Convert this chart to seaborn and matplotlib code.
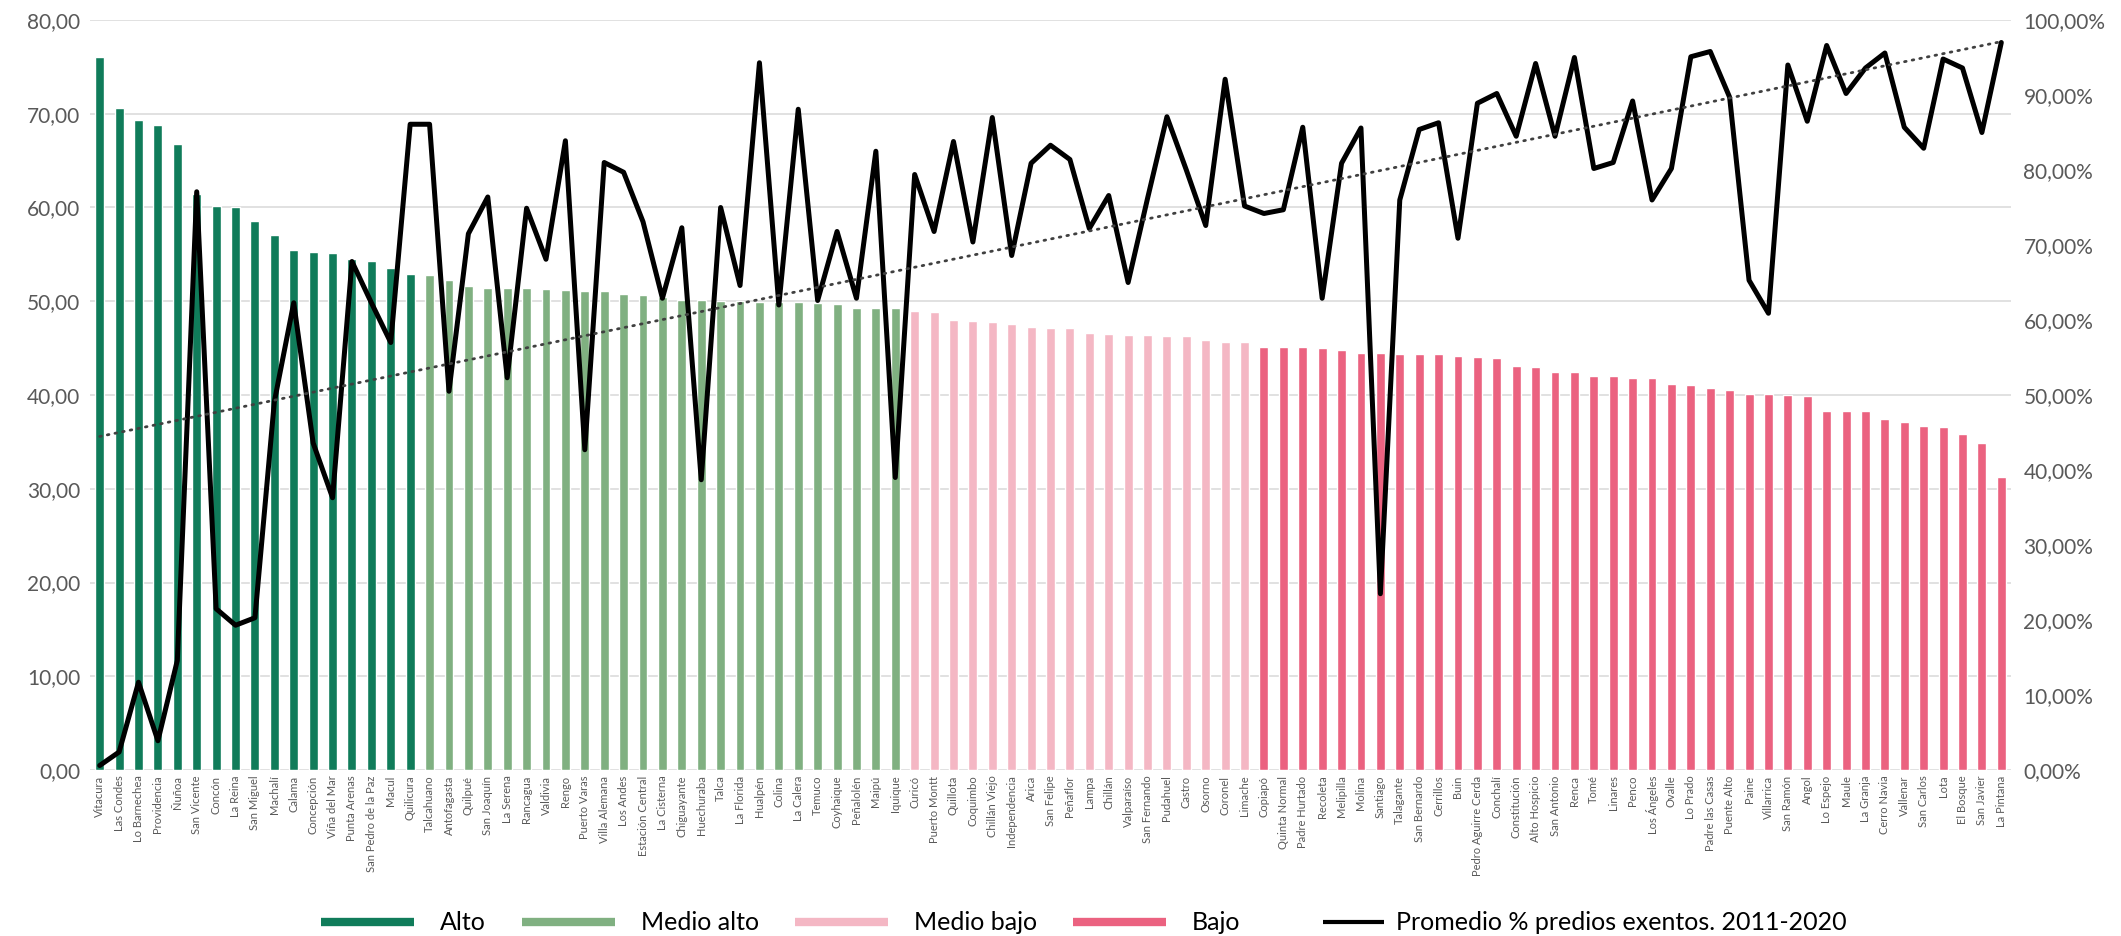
import numpy as np
import pandas as pd
import matplotlib
matplotlib.use("Agg")
import matplotlib.pyplot as plt
from matplotlib.lines import Line2D
from matplotlib.legend_handler import HandlerLine2D
from matplotlib.ticker import FuncFormatter, MultipleLocator
import seaborn as sns

# ---------------- data ----------------
alto = ["Vitacura", "Las Condes", "Lo Barnechea", "Providencia", "Ñuñoa", "San Vicente",
        "Concón", "La Reina", "San Miguel", "Machalí", "Calama", "Concepción",
        "Viña del Mar", "Punta Arenas", "San Pedro de la Paz", "Macul", "Quilicura"]
alto_val = [76.0, 70.6, 69.3, 68.8, 66.8, 61.4, 60.2, 60.1, 58.6, 57.1, 55.5, 55.2,
            55.1, 54.5, 54.3, 53.5, 52.9]
alto_pct = [0.6, 2.4, 11.7, 3.9, 14.6, 77.1, 21.5, 19.3, 20.3, 49.1, 62.3, 43.6,
            36.3, 67.8, 62.3, 57.0, 86.1]

medio_alto = ["Talcahuano", "Antofagasta", "Quilpué", "San Joaquín", "La Serena", "Rancagua",
              "Valdivia", "Rengo", "Puerto Varas", "Villa Alemana", "Los Andes",
              "Estación Central", "La Cisterna", "Chiguayante", "Huechuraba", "Talca",
              "La Florida", "Hualpén", "Colina", "La Calera", "Temuco", "Coyhaique",
              "Peñalolén", "Maipú", "Iquique"]
medio_alto_val = [52.8, 52.3, 51.6, 51.4, 51.4, 51.4, 51.3, 51.2, 51.1, 51.1, 50.8,
                  50.7, 50.4, 50.1, 50.1, 50.0, 50.0, 49.9, 49.9, 49.9, 49.8, 49.7,
                  49.3, 49.3, 49.3]
medio_alto_pct = [86.1, 50.5, 71.5, 76.4, 52.3, 74.9, 68.1, 83.9, 42.7, 81.0, 79.7,
                  73.1, 62.9, 72.3, 38.7, 75.0, 64.6, 94.3, 62.0, 88.1, 62.6, 71.8,
                  62.9, 82.5, 39.0]

medio_bajo = ["Curicó", "Puerto Montt", "Quillota", "Coquimbo", "Chillán Viejo",
              "Independencia", "Arica", "San Felipe", "Peñaflor", "Lampa", "Chillán",
              "Valparaíso", "San Fernando", "Pudahuel", "Castro", "Osorno", "Coronel",
              "Limache"]
medio_bajo_val = [49.0, 48.8, 48.0, 47.9, 47.8, 47.6, 47.2, 47.1, 47.1, 46.6, 46.5,
                  46.4, 46.4, 46.3, 46.3, 45.9, 45.7, 45.6]
medio_bajo_pct = [79.4, 71.8, 83.8, 70.4, 87.0, 68.6, 80.9, 83.3, 81.4, 72.2, 76.6,
                  65.0, 76.2, 87.1, 80.0, 72.6, 92.1, 75.2]

bajo = ["Copiapó", "Quinta Normal", "Padre Hurtado", "Recoleta", "Melipilla", "Molina",
        "Santiago", "Talagante", "San Bernardo", "Cerrillos", "Buin",
        "Pedro Aguirre Cerda", "Conchalí", "Constitución", "Alto Hospicio",
        "San Antonio", "Renca", "Tomé", "Linares", "Penco", "Los Ángeles", "Ovalle",
        "Lo Prado", "Padre las Casas", "Puente Alto", "Paine", "Villarrica",
        "San Ramón", "Angol", "Lo Espejo", "Maule", "La Granja", "Cerro Navia",
        "Vallenar", "San Carlos", "Lota", "El Bosque", "San Javier", "La Pintana"]
bajo_val = [45.1, 45.1, 45.1, 45.0, 44.8, 44.5, 44.5, 44.4, 44.4, 44.4, 44.2, 44.1,
            43.9, 43.1, 43.0, 42.5, 42.5, 42.0, 42.0, 41.8, 41.8, 41.2, 41.1, 40.7,
            40.5, 40.1, 40.1, 40.0, 39.9, 38.3, 38.3, 38.3, 37.4, 37.1, 36.7, 36.6,
            35.8, 34.9, 31.3]
bajo_pct = [74.2, 74.7, 85.7, 62.9, 80.9, 85.6, 23.5, 76.0, 85.4, 86.3, 70.9, 88.9,
            90.2, 84.5, 94.2, 84.5, 95.0, 80.2, 81.0, 89.2, 76.0, 80.2, 95.1, 95.8,
            89.7, 65.3, 60.9, 94.0, 86.5, 96.6, 90.2, 93.6, 95.6, 85.7, 82.9, 94.8,
            93.6, 85.0, 97.0]

group_names = ["Alto", "Medio alto", "Medio bajo", "Bajo"]
group_colors = ["#107C5A", "#80B081", "#F4B7C4", "#EB6280"]
line_label = "Promedio % predios exentos. 2011-2020"

# ---------------- table ----------------
frames = []
for g, names, vals, pcts in zip(group_names,
                                [alto, medio_alto, medio_bajo, bajo],
                                [alto_val, medio_alto_val, medio_bajo_val, bajo_val],
                                [alto_pct, medio_alto_pct, medio_bajo_pct, bajo_pct]):
    frames.append(pd.DataFrame({"comuna": names, "valor": vals, "pct": pcts, "grupo": g}))
df = pd.concat(frames, ignore_index=True)
df["pos"] = np.arange(len(df))

# ---------------- plot ----------------
sns.set_theme(style="white")
plt.rcParams["font.family"] = ["Lato", "DejaVu Sans"]

fig = plt.figure(figsize=(21.21, 9.36), dpi=100)
ax = fig.add_axes([90 / 2121, 1 - 770 / 936, (2011 - 90) / 2121, (770 - 20) / 936])

sns.barplot(data=df, x="comuna", y="valor", hue="grupo", order=list(df["comuna"]),
            hue_order=group_names, palette=dict(zip(group_names, group_colors)),
            dodge=False, width=0.46, legend=False, ax=ax, saturation=1)

ax.set_ylim(0, 80)
ax.set_xlim(-0.5, len(df) - 0.5)
ax.yaxis.set_major_locator(MultipleLocator(10))
ax.yaxis.set_major_formatter(FuncFormatter(lambda v, p: f"{v:.2f}".replace(".", ",")))
ax.grid(axis="y", color="#D9D9D9", linewidth=1.1)
ax.set_axisbelow(True)
for s in ax.spines.values():
    s.set_visible(False)
ax.set_xlabel("")
ax.set_ylabel("")
ax.tick_params(axis="y", length=0, pad=7, labelsize=15, labelcolor="#595959")
ax.tick_params(axis="x", length=0, pad=4, labelsize=8, labelcolor="#595959")
plt.setp(ax.get_xticklabels(), rotation=90, ha="center", va="top")

ax2 = ax.twinx()
sns.lineplot(data=df, x="pos", y="pct", color="black", linewidth=3.6, ax=ax2,
             legend=False)
# linear trend line of the percentage series
coef = np.polyfit(df["pos"], df["pct"], 1)
trend = np.polyval(coef, df["pos"])
sns.lineplot(x=df["pos"], y=trend, color="#404040", linewidth=2.0,
             linestyle=(0, (0.6, 2.2)), ax=ax2, legend=False)
ax2.lines[-1].set_dash_capstyle("round")

ax2.set_ylim(0, 100)
ax2.set_xlim(-0.5, len(df) - 0.5)
ax2.yaxis.set_major_locator(MultipleLocator(10))
ax2.yaxis.set_major_formatter(FuncFormatter(lambda v, p: f"{v:.2f}%".replace(".", ",")))
ax2.tick_params(axis="y", length=0, pad=9, labelsize=15, labelcolor="#595959")
ax2.set_ylabel("")
ax2.set_xlabel("")
ax2.grid(False)
for s in ax2.spines.values():
    s.set_visible(False)


class ShortLineHandler(HandlerLine2D):
    """Shorter legend handle sitting close to its text."""
    def create_artists(self, legend, orig_handle, xdescent, ydescent, width,
                       height, fontsize, trans):
        y = height / 2 - ydescent
        ln = Line2D([width * 0.50 - xdescent, width * 1.16 - xdescent], [y, y])
        self.update_prop(ln, orig_handle, legend)
        ln.set_transform(trans)
        return [ln]


handles = [Line2D([0], [0], color=c, linewidth=6, solid_capstyle="butt") for c in group_colors]
line_handle = Line2D([0], [0], color="black", linewidth=3, solid_capstyle="butt")
handles.append(line_handle)
fig.legend(handles, group_names + [line_label], loc="center", ncol=5,
           bbox_to_anchor=(0.511, 0.014), frameon=False, fontsize=18,
           handlelength=3.7, handletextpad=1.05, columnspacing=1.45,
           labelcolor="black",
           handler_map={line_handle: ShortLineHandler()})

fig.savefig("out.png", dpi=100)
